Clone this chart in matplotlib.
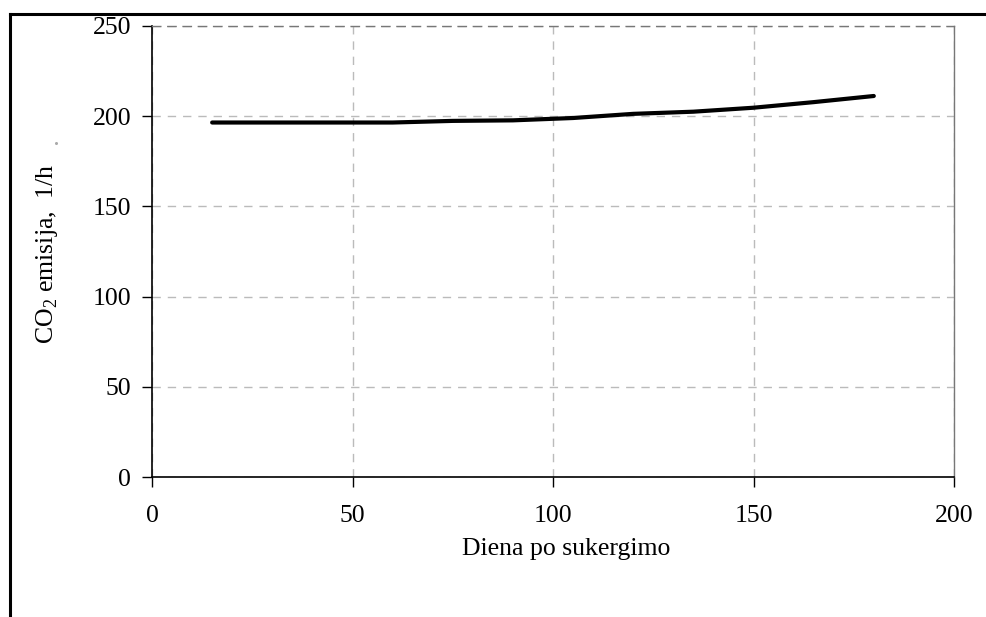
import matplotlib
matplotlib.use("Agg")
import matplotlib.pyplot as plt
from matplotlib.lines import Line2D

plt.rcParams['font.family'] = ['Liberation Serif', 'DejaVu Serif']
plt.rcParams['mathtext.fontset'] = 'custom'
plt.rcParams['mathtext.rm'] = 'Liberation Serif'

days = [15, 30, 45, 60, 75, 90, 105, 120, 135, 150, 165, 180]
co2 = [196.5, 196.5, 196.5, 196.5, 197.4, 197.7, 199.0, 201.3, 202.5, 204.7, 207.8, 211.2]

x_ticks = [0, 50, 100, 150, 200]
y_ticks = [0, 50, 100, 150, 200, 250]
xlabel = "Diena po sukergimo"
ylabel = "CO$_{\\mathrm{2}}$ emisija,  1/h"

W, H = 986, 617
fig = plt.figure(figsize=(W / 100, H / 100), dpi=100)
ax = fig.add_axes([152 / W, 1 - 477 / H, 802 / W, 451 / H])

ax.plot(days, co2, color='black', lw=3.0, solid_capstyle='round', zorder=3)

ax.set_xlim(0, 200)
ax.set_ylim(0, 250)
ax.set_xticks(x_ticks)
ax.set_yticks(y_ticks)
ax.tick_params(direction='out', length=7, width=1, labelsize=18.5)
ax.tick_params(axis='x', pad=13)
ax.tick_params(axis='y', pad=8)
ax.grid(True, color='#bbbbbb', linestyle=(0, (6, 5)), linewidth=1)
for s in ['left', 'bottom']:
    ax.spines[s].set_color('black')
    ax.spines[s].set_linewidth(1.2)
for s in ['top', 'right']:
    ax.spines[s].set_color('#777777')
    ax.spines[s].set_linewidth(1.0)
ax.spines['top'].set_linestyle((0, (6, 5)))

fig.text(566 / W, 1 - 549 / H, xlabel, ha='center', va='center', fontsize=18.5)
fig.text(47 / W, 1 - 254 / H, ylabel, ha='center', va='center', rotation=90, fontsize=18.5)

# outer frame
fig.add_artist(Line2D([10 / W, 1.0], [1 - 14 / H, 1 - 14 / H], color='black', lw=2.2, transform=fig.transFigure))
fig.add_artist(Line2D([10 / W, 10 / W], [1 - 14 / H, 0.0], color='black', lw=2.2, transform=fig.transFigure))
fig.add_artist(Line2D([56 / W], [1 - 143 / H], marker='o', markersize=1.2, color='#aaaaaa', lw=0, transform=fig.transFigure))

fig.savefig('out.png', dpi=100)
